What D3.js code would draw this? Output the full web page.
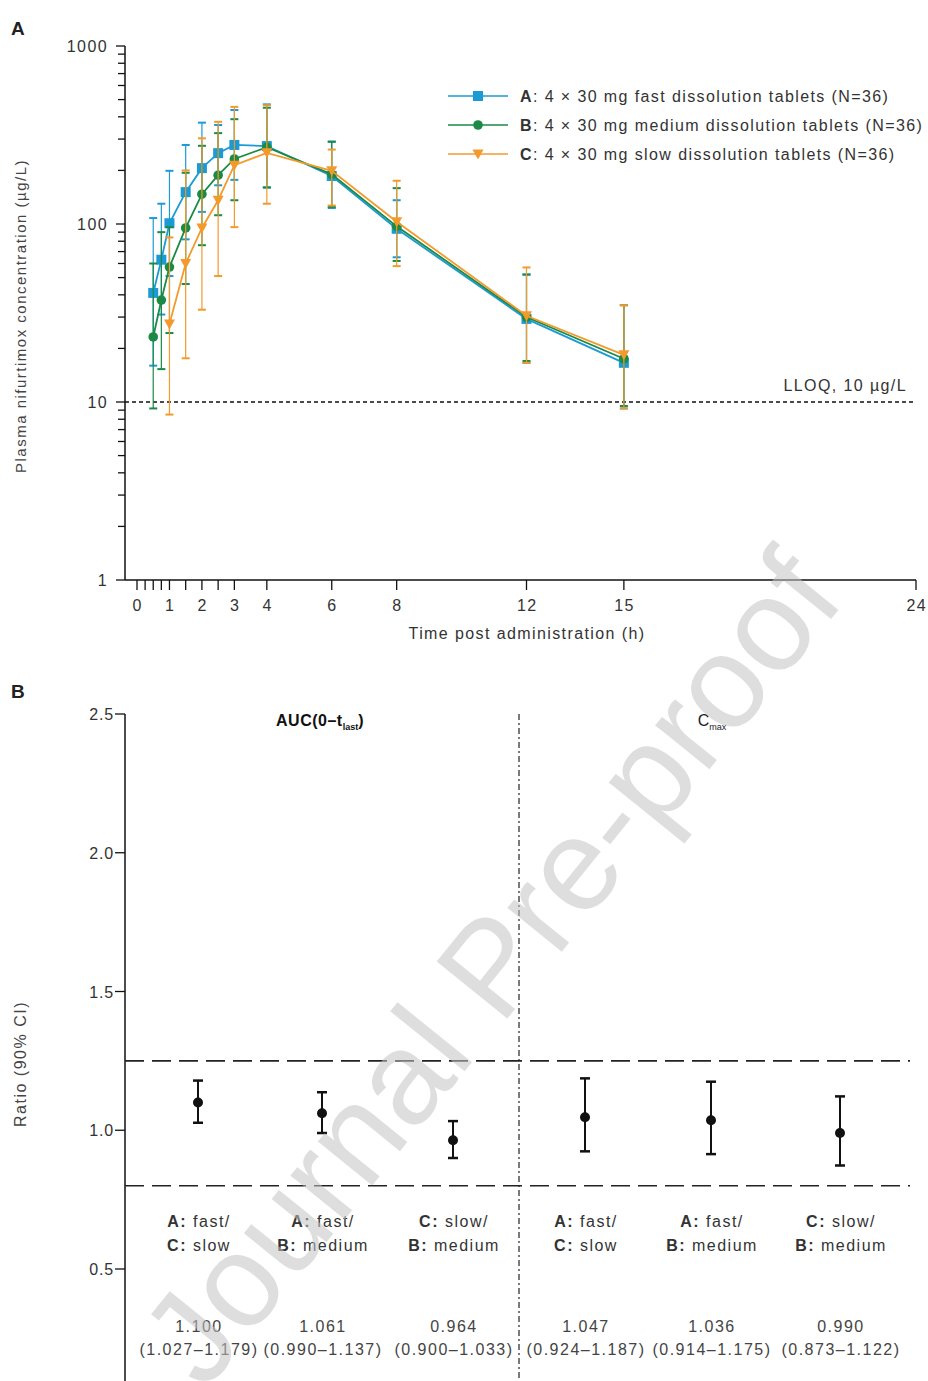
<!DOCTYPE html>
<html><head><meta charset="utf-8">
<script src="https://cdn.jsdelivr.net/npm/d3@7"></script>
<style>
html,body{margin:0;padding:0;background:#fff;}
svg{display:block;font-family:"Liberation Sans",Arial,sans-serif;}
</style></head>
<body>
<svg id="c" width="928" height="1381"></svg>
<script>
// ---------- Panel A data ----------
const times = [0.5, 0.75, 1, 1.5, 2, 2.5, 3, 4, 6, 8, 12, 15];
const meanA  = [41, 63, 101, 151, 206, 250, 278, 274, 186, 94, 29.3, 16.6];
const upperA = [108, 130, 199, 278, 371, 360, 437, 470, 290, 136, 52, 35];
const lowerA = [16, 31, 51, 82, 117, 165, 177, 161, 123, 65, 16.6, 9.2];
const meanB  = [23.2, 37.4, 57.3, 95, 147, 188, 232, 270, 190, 97, 30, 17.5];
const upperB = [60, 90, 96, 194, 275, 324, 388, 450, 290, 159, 52, 35];
const lowerB = [9.2, 15.3, 24.4, 46, 76, 112, 136, 160, 125, 62, 17, 9.5];
const meanC  = [null, null, 27.4, 60, 95, 136, 214, 251, 199, 103, 30.5, 18.4];
const upperC = [null, null, 84, 200, 303, 375, 455, 465, 262, 175, 57, 35];
const lowerC = [null, null, 8.5, 17.6, 33, 51, 96, 130, 127, 58, 16.6, 9.2];
const seriesLetters = ["A", "B", "C"];
const seriesLabels = [": 4 \u00d7 30 mg fast dissolution tablets (N=36)",
                      ": 4 \u00d7 30 mg medium dissolution tablets (N=36)",
                      ": 4 \u00d7 30 mg slow dissolution tablets (N=36)"];
const xTickValues = [0, 0.25, 0.5, 0.75, 1, 1.5, 2, 2.5, 3, 4, 6, 8, 12, 15, 24];
const xTickLabels = [0, 1, 2, 3, 4, 6, 8, 12, 15, 24];
const yTickLabelsA = [1, 10, 100, 1000];
const lloq = 10;

// ---------- Panel B data ----------
const ratioTop = ["A: fast/", "A: fast/", "C: slow/", "A: fast/", "A: fast/", "C: slow/"];
const ratioBottom = ["C: slow", "B: medium", "B: medium", "C: slow", "B: medium", "B: medium"];
const ratioEst = [1.100, 1.061, 0.964, 1.047, 1.036, 0.990];
const ratioLo  = [1.027, 0.990, 0.900, 0.924, 0.914, 0.873];
const ratioHi  = [1.179, 1.137, 1.033, 1.187, 1.175, 1.122];
const ratioTicks = [0.5, 1.0, 1.5, 2.0, 2.5];
const bioLimits = [0.8, 1.25];

const svg = d3.select("#c");
const colors = ["#1c9ad6", "#1a8a45", "#f39a2c"];
const LS = 1.4;

// ===== Panel A =====
const x = d3.scaleLinear().domain([0, 24]).range([137, 916]);
const y = d3.scaleLog().domain([1, 1000]).range([580, 46]);
const gA = svg.append("g").attr("letter-spacing", LS);

svg.append("text").attr("x", 11).attr("y", 35).attr("font-size", 19).attr("font-weight", "bold").attr("fill", "#222").text("A");

// y axis
gA.append("line").attr("x1", 125).attr("x2", 125).attr("y1", y(1000)).attr("y2", y(1)).attr("stroke", "#111").attr("stroke-width", 1.5);
const minorY = [];
for (let k = 0; k < 3; k++) for (let m = 1; m <= 9; m++) minorY.push(m * Math.pow(10, k));
minorY.push(1000);
gA.selectAll(".ytk").data(minorY).join("line")
  .attr("x1", d => yTickLabelsA.includes(d) ? 116 : 118).attr("x2", 125)
  .attr("y1", d => y(d)).attr("y2", d => y(d)).attr("stroke", "#111").attr("stroke-width", 1.3);
gA.selectAll(".ytl").data(yTickLabelsA).join("text")
  .attr("x", 108).attr("y", d => y(d) + 6).attr("text-anchor", "end").attr("font-size", 16).attr("fill", "#333")
  .text(d => d);
gA.append("text").attr("transform", "translate(26,316) rotate(-90)").attr("text-anchor", "middle")
  .attr("font-size", 15).attr("letter-spacing", 1.5).attr("fill", "#444").text("Plasma nifurtimox concentration (\u00b5g/L)");

// x axis
gA.append("line").attr("x1", 125).attr("x2", x(24)).attr("y1", 580).attr("y2", 580).attr("stroke", "#111").attr("stroke-width", 1.5);
gA.selectAll(".xtk").data(xTickValues).join("line")
  .attr("x1", d => x(d)).attr("x2", d => x(d)).attr("y1", 580).attr("y2", 590).attr("stroke", "#111").attr("stroke-width", 1.3);
gA.selectAll(".xtl").data(xTickLabels).join("text")
  .attr("x", d => x(d) + LS / 2).attr("y", 611).attr("text-anchor", "middle").attr("font-size", 16).attr("fill", "#333").text(d => d);
gA.append("text").attr("x", 527).attr("y", 639).attr("text-anchor", "middle").attr("font-size", 16).attr("fill", "#333")
  .text("Time post administration (h)");

// LLOQ
gA.append("line").attr("x1", 125).attr("x2", 916).attr("y1", y(lloq)).attr("y2", y(lloq))
  .attr("stroke", "#111").attr("stroke-width", 1.3).attr("stroke-dasharray", "4,3");
gA.append("text").attr("x", 907).attr("y", y(lloq) - 11).attr("text-anchor", "end").attr("font-size", 16).attr("fill", "#333")
  .text("LLOQ, 10 \u00b5g/L");

const allSeries = [
  {mean: meanA, up: upperA, lo: lowerA},
  {mean: meanB, up: upperB, lo: lowerB},
  {mean: meanC, up: upperC, lo: lowerC}
];

function marker(g, i, cx, cy, col) {
  if (i === 0) g.append("rect").attr("x", cx - 5).attr("y", cy - 5).attr("width", 10).attr("height", 10).attr("fill", col);
  else if (i === 1) g.append("circle").attr("cx", cx).attr("cy", cy).attr("r", 4.8).attr("fill", col);
  else g.append("path").attr("d", `M${cx-5.5},${cy-4.5} L${cx+5.5},${cy-4.5} L${cx},${cy+5.5} Z`).attr("fill", col);
}

allSeries.forEach((s, i) => {
  const col = colors[i];
  const g = gA.append("g");
  const pts = times.map((t, j) => ({t, m: s.mean[j], u: s.up[j], l: s.lo[j]})).filter(d => d.m != null);
  pts.forEach(d => {
    g.append("line").attr("x1", x(d.t)).attr("x2", x(d.t)).attr("y1", y(d.u)).attr("y2", y(d.l)).attr("stroke", col).attr("stroke-width", 1.2);
    [d.u, d.l].forEach(v => g.append("line").attr("x1", x(d.t) - 4).attr("x2", x(d.t) + 4).attr("y1", y(v)).attr("y2", y(v))
      .attr("stroke", col).attr("stroke-width", 2));
  });
  g.append("path").datum(pts).attr("fill", "none").attr("stroke", col).attr("stroke-width", 1.8)
    .attr("d", d3.line().x(d => x(d.t)).y(d => y(d.m)));
  pts.forEach(d => marker(g, i, x(d.t), y(d.m), col));
});

// legend
const lg = svg.append("g").attr("letter-spacing", LS);
seriesLetters.forEach((L, i) => {
  const yy = 96 + i * 29;
  lg.append("line").attr("x1", 448).attr("x2", 508).attr("y1", yy).attr("y2", yy).attr("stroke", colors[i]).attr("stroke-width", 1.5);
  marker(lg, i, 478, yy, colors[i]);
  const t = lg.append("text").attr("x", 520).attr("y", yy + 6).attr("font-size", 16).attr("fill", "#333");
  t.append("tspan").attr("font-weight", "bold").text(L);
  t.append("tspan").text(seriesLabels[i]);
});

// ===== Panel B =====
const yB = d3.scaleLinear().domain([0.5, 2.5]).range([1269, 714]);
const xPos = [198, 322, 453, 585, 711, 840];
const gB = svg.append("g").attr("letter-spacing", 1.5);
svg.append("text").attr("x", 11).attr("y", 698).attr("font-size", 19).attr("font-weight", "bold").attr("fill", "#222").text("B");

gB.append("line").attr("x1", 125).attr("x2", 125).attr("y1", yB(2.5)).attr("y2", 1381).attr("stroke", "#111").attr("stroke-width", 1.5);
gB.selectAll(".tk").data(ratioTicks).join("line")
  .attr("x1", 115).attr("x2", 125).attr("y1", d => yB(d)).attr("y2", d => yB(d)).attr("stroke", "#111").attr("stroke-width", 1.3);
gB.selectAll(".tl").data(ratioTicks).join("text")
  .attr("x", 114).attr("y", d => yB(d) + 6).attr("text-anchor", "end").attr("font-size", 16).attr("letter-spacing", 0.8).attr("fill", "#333")
  .text(d => d.toFixed(1));
gB.append("text").attr("transform", "translate(26,1064) rotate(-90)").attr("text-anchor", "middle")
  .attr("font-size", 16).attr("fill", "#444").text("Ratio (90% CI)");

bioLimits.forEach(v => gB.append("line").attr("x1", 125).attr("x2", 910).attr("y1", yB(v)).attr("y2", yB(v))
  .attr("stroke", "#222").attr("stroke-width", 1.6).attr("stroke-dasharray", "19,8"));
gB.append("line").attr("x1", 519).attr("x2", 519).attr("y1", 714).attr("y2", 1381)
  .attr("stroke", "#222").attr("stroke-width", 1.2).attr("stroke-dasharray", "6,3,2,3");

const t1 = gB.append("text").attr("x", 320).attr("y", 726).attr("text-anchor", "middle").attr("font-size", 16).attr("font-weight", "bold").attr("letter-spacing", 0.5).attr("fill", "#111");
t1.append("tspan").text("AUC(0\u2013t");
t1.append("tspan").attr("font-size", 9).attr("letter-spacing", 0).attr("dy", 4).text("last");
t1.append("tspan").attr("dy", -4).text(")");
const t2 = gB.append("text").attr("x", 712).attr("y", 726).attr("text-anchor", "middle").attr("font-size", 16).attr("letter-spacing", 0).attr("fill", "#222");
t2.append("tspan").text("C");
t2.append("tspan").attr("font-size", 9).attr("dy", 4).text("max");

ratioEst.forEach((v, i) => {
  const cx = xPos[i];
  gB.append("line").attr("x1", cx).attr("x2", cx).attr("y1", yB(ratioHi[i])).attr("y2", yB(ratioLo[i])).attr("stroke", "#111").attr("stroke-width", 2);
  [ratioHi[i], ratioLo[i]].forEach(b => gB.append("line").attr("x1", cx - 5).attr("x2", cx + 5).attr("y1", yB(b)).attr("y2", yB(b))
    .attr("stroke", "#111").attr("stroke-width", 2.5));
  gB.append("circle").attr("cx", cx).attr("cy", yB(v)).attr("r", 5).attr("fill", "#111");
  const splitLabel = (s, yy) => {
    const k = s.indexOf(":");
    const tt = gB.append("text").attr("x", cx + 1).attr("y", yy).attr("text-anchor", "middle").attr("font-size", 16).attr("fill", "#333");
    tt.append("tspan").attr("font-weight", "bold").text(s.slice(0, k + 1));
    tt.append("tspan").text(s.slice(k + 1));
  };
  splitLabel(ratioTop[i], 1227);
  splitLabel(ratioBottom[i], 1251);
  gB.append("text").attr("x", cx + 1).attr("y", 1332).attr("text-anchor", "middle").attr("font-size", 16).attr("fill", "#444").text(v.toFixed(3));
  gB.append("text").attr("x", cx + 1).attr("y", 1355).attr("text-anchor", "middle").attr("font-size", 16).attr("fill", "#444")
    .text(`(${ratioLo[i].toFixed(3)}\u2013${ratioHi[i].toFixed(3)})`);
});

// watermark
svg.append("text").attr("transform", "translate(205,1392) rotate(-51)")
  .attr("font-size", 132).attr("fill", "#c2c2c2").attr("fill-opacity", 0.55).text("Journal Pre-proof");
</script>
</body></html>
